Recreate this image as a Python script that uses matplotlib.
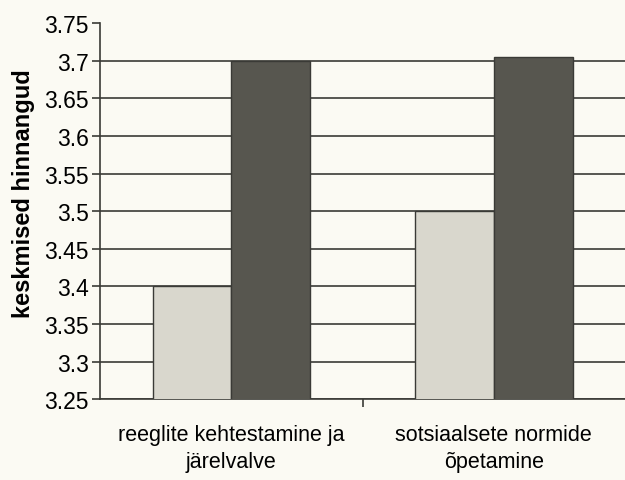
import matplotlib
matplotlib.use('Agg')
from matplotlib import pyplot as plt
import numpy as np

plt.rcParams['font.family'] = ['Liberation Sans', 'DejaVu Sans']

categories = ['reeglite kehtestamine ja\njärelvalve', 'sotsiaalsete normide\nõpetamine']
light_vals = [3.40, 3.50]
dark_vals = [3.70, 3.705]
yticks = [3.25, 3.3, 3.35, 3.4, 3.45, 3.5, 3.55, 3.6, 3.65, 3.7, 3.75]
ytick_labels = ['3.25', '3.3', '3.35', '3.4', '3.45', '3.5', '3.55', '3.6', '3.65', '3.7', '3.75']

bg = '#fbfaf3'
fig = plt.figure(figsize=(6.25, 4.81), dpi=100, facecolor=bg)
ax = fig.add_axes([0.16, 0.168, 0.84, 0.782], facecolor=bg)

x = np.arange(len(categories))
w = 0.30
ax.bar(x - w / 2, light_vals, w, color='#d9d7cd', edgecolor='#3a3a36', linewidth=1, zorder=3)
ax.bar(x + w / 2, dark_vals, w, color='#57564f', edgecolor='#3a3a36', linewidth=1, zorder=3)

ax.set_xlim(-0.5, 1.5)
ax.set_ylim(3.25, 3.75)
ax.set_yticks(yticks)
ax.set_yticklabels(ytick_labels, fontsize=16.5)
ax.yaxis.grid(True, color='#3a3a36', linewidth=1.2, zorder=0)
ax.get_ygridlines()[-1].set_visible(False)
ax.set_axisbelow(True)

ax.set_xticks(x)
ax.set_xticklabels(categories, fontsize=15.5, linespacing=1.35)
ax.tick_params(axis='x', length=0, pad=18)
ax.set_xticks([0.5], minor=True)
ax.tick_params(axis='x', which='minor', length=6, color='#3a3a36', width=1.2)
ax.tick_params(axis='y', length=6, color='#3a3a36', width=1.2, pad=2)

for s in ['top', 'right']:
    ax.spines[s].set_visible(False)
ax.spines['left'].set_color('#3a3a36')
ax.spines['bottom'].set_color('#3a3a36')
ax.spines['left'].set_linewidth(1.2)
ax.spines['bottom'].set_linewidth(1.2)

ax.set_ylabel('keskmised hinnangud', fontsize=17, fontweight='bold')
ax.yaxis.set_label_coords(-0.145, 0.55)
ax.yaxis.label.set_va('center')

fig.savefig('out.png', dpi=100, facecolor=bg)
